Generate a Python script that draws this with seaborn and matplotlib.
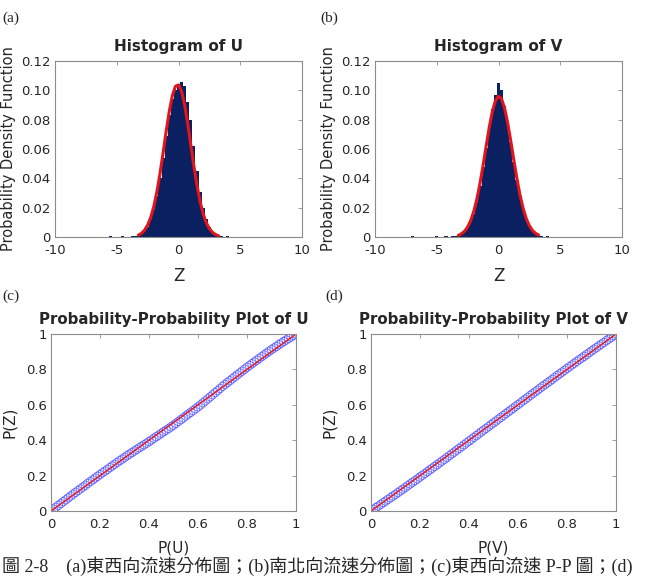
import seaborn as sns
import matplotlib.pyplot as plt

# histogram bins (centre of each 0.25-wide bin) and heights
u_bin_x = [-7.5, -6.5, -5.5, -4.5, -3.75, -3.5, -3.25, -3.0, -2.75, -2.5, -2.25, -2.0, -1.75, -1.5,
           -1.25, -1.0, -0.75, -0.5, -0.25, 0.0, 0.25, 0.5, 0.75, 1.0, 1.25, 1.5, 1.75,
           2.0, 2.25, 2.5, 2.75, 3.0, 3.25, 3.5, 4.0, 4.5, 5.5]
u_bin_h = [0.0003, 0.0003, 0.0004, 0.0004, 0.0005, 0.0008, 0.0012, 0.0022, 0.004, 0.007, 0.012, 0.019, 0.028, 0.040,
           0.054, 0.069, 0.083, 0.094, 0.100, 0.103, 0.106, 0.103, 0.092, 0.080, 0.062, 0.045, 0.031,
           0.020, 0.012, 0.0065, 0.0035, 0.0018, 0.0009, 0.0005, 0.0004, 0.0003, 0.0003]

v_bin_x = [-7.0, -6.0, -5.0, -4.25, -3.75, -3.5, -3.25, -3.0, -2.75, -2.5, -2.25, -2.0, -1.75, -1.5,
           -1.25, -1.0, -0.75, -0.5, -0.25, 0.0, 0.25, 0.5, 0.75, 1.0, 1.25, 1.5, 1.75,
           2.0, 2.25, 2.5, 2.75, 3.0, 3.25, 3.5, 4.0, 4.75]
v_bin_h = [0.0004, 0.0003, 0.0004, 0.0004, 0.0006, 0.0008, 0.001, 0.002, 0.0035, 0.006, 0.010, 0.016, 0.024, 0.035,
           0.048, 0.061, 0.075, 0.087, 0.097, 0.105, 0.100, 0.089, 0.078, 0.065, 0.051, 0.039, 0.028,
           0.019, 0.012, 0.0075, 0.0045, 0.0025, 0.0012, 0.0006, 0.0004, 0.0003]

# fitted normal curves
curve_x = [-3.25, -3.0, -2.75, -2.5, -2.25, -2.0, -1.75, -1.5, -1.25, -1.0, -0.75, -0.5, -0.25,
           0.0, 0.25, 0.5, 0.75, 1.0, 1.25, 1.5, 1.75, 2.0, 2.25, 2.5, 2.75, 3.0, 3.25]
u_curve = [0.0013, 0.0025, 0.0046, 0.0081, 0.0133, 0.0208, 0.0308, 0.0431, 0.0572, 0.0719, 0.0855, 0.0963, 0.1027,
           0.1037, 0.0992, 0.0898, 0.0770, 0.0625, 0.0480, 0.0350, 0.0241, 0.0157, 0.0097, 0.0057, 0.0032, 0.0017, 0.0008]
v_curve = [0.0011, 0.0022, 0.0039, 0.0068, 0.0112, 0.0175, 0.0259, 0.0365, 0.0488, 0.0619, 0.0747, 0.0855, 0.0929,
           0.0960, 0.0941, 0.0876, 0.0775, 0.0651, 0.0519, 0.0393, 0.0283, 0.0193, 0.0125, 0.0077, 0.0045, 0.0025, 0.0013]

# P-P plot points
pp_x = [0.00, 0.01, 0.02, 0.03, 0.04, 0.05, 0.06, 0.07, 0.08, 0.09,
        0.10, 0.11, 0.12, 0.13, 0.14, 0.15, 0.16, 0.17, 0.18, 0.19,
        0.20, 0.21, 0.22, 0.23, 0.24, 0.25, 0.26, 0.27, 0.28, 0.29,
        0.30, 0.31, 0.32, 0.33, 0.34, 0.35, 0.36, 0.37, 0.38, 0.39,
        0.40, 0.41, 0.42, 0.43, 0.44, 0.45, 0.46, 0.47, 0.48, 0.49,
        0.50, 0.51, 0.52, 0.53, 0.54, 0.55, 0.56, 0.57, 0.58, 0.59,
        0.60, 0.61, 0.62, 0.63, 0.64, 0.65, 0.66, 0.67, 0.68, 0.69,
        0.70, 0.71, 0.72, 0.73, 0.74, 0.75, 0.76, 0.77, 0.78, 0.79,
        0.80, 0.81, 0.82, 0.83, 0.84, 0.85, 0.86, 0.87, 0.88, 0.89,
        0.90, 0.91, 0.92, 0.93, 0.94, 0.95, 0.96, 0.97, 0.98, 0.99, 1.00]
pp_u = [0.000, 0.011, 0.021, 0.032, 0.042, 0.053, 0.063, 0.074, 0.084, 0.095,
        0.105, 0.115, 0.125, 0.135, 0.145, 0.156, 0.166, 0.176, 0.186, 0.196,
        0.206, 0.216, 0.225, 0.235, 0.245, 0.255, 0.264, 0.274, 0.284, 0.293,
        0.303, 0.312, 0.321, 0.330, 0.339, 0.348, 0.357, 0.366, 0.374, 0.383,
        0.392, 0.401, 0.411, 0.420, 0.429, 0.439, 0.448, 0.457, 0.466, 0.476,
        0.485, 0.495, 0.506, 0.516, 0.526, 0.537, 0.547, 0.557, 0.567, 0.578,
        0.588, 0.599, 0.611, 0.622, 0.634, 0.645, 0.657, 0.669, 0.680, 0.692,
        0.704, 0.715, 0.726, 0.736, 0.747, 0.758, 0.769, 0.780, 0.790, 0.801,
        0.812, 0.822, 0.832, 0.842, 0.852, 0.862, 0.872, 0.882, 0.892, 0.902,
        0.912, 0.921, 0.930, 0.940, 0.949, 0.958, 0.966, 0.975, 0.983, 0.992, 1.000]
pp_v = [0.000, 0.009, 0.019, 0.028, 0.038, 0.047, 0.056, 0.066, 0.075, 0.085,
        0.094, 0.104, 0.114, 0.123, 0.133, 0.143, 0.153, 0.163, 0.172, 0.182,
        0.192, 0.202, 0.212, 0.222, 0.232, 0.242, 0.252, 0.262, 0.272, 0.282,
        0.292, 0.302, 0.313, 0.323, 0.333, 0.344, 0.354, 0.364, 0.374, 0.385,
        0.395, 0.405, 0.416, 0.426, 0.436, 0.447, 0.457, 0.467, 0.477, 0.488,
        0.498, 0.508, 0.519, 0.529, 0.539, 0.550, 0.560, 0.570, 0.580, 0.591,
        0.601, 0.611, 0.622, 0.632, 0.642, 0.653, 0.663, 0.673, 0.683, 0.694,
        0.704, 0.714, 0.724, 0.734, 0.744, 0.755, 0.765, 0.775, 0.785, 0.795,
        0.805, 0.815, 0.825, 0.835, 0.845, 0.855, 0.864, 0.874, 0.884, 0.894,
        0.904, 0.914, 0.923, 0.933, 0.942, 0.952, 0.962, 0.971, 0.981, 0.990, 1.000]
ref_line = [0, 1]

hist_yticks = [0, 0.02, 0.04, 0.06, 0.08, 0.10, 0.12]
hist_ylabels = ["0", "0.02", "0.04", "0.06", "0.08", "0.10", "0.12"]
hist_xticks = [-10, -5, 0, 5, 10]
pp_ticks = [0, 0.2, 0.4, 0.6, 0.8, 1]
pp_labels = ["0", "0.2", "0.4", "0.6", "0.8", "1"]

caption = "圖 2-8　(a)東西向流速分佈圖；(b)南北向流速分佈圖；(c)東西向流速 P-P 圖；(d)"

sns.set_style("white")
plt.rcParams["font.family"] = ["DejaVu Sans", "Noto Sans CJK TC"]

NAVY = "#0b2060"
RED = "#e3141b"
GREY = "#8c8c8c"

fig = plt.figure(figsize=(6.54, 5.77), dpi=100)
W, H = 654, 577


def add_ax(l, t, r, b):
    return fig.add_axes([l / W, 1 - b / H, (r - l) / W, (b - t) / H])


def style(ax):
    for s in ax.spines.values():
        s.set_color(GREY)
        s.set_linewidth(0.8)
    ax.tick_params(direction="in", length=3, width=0.6, color=GREY, top=True, right=True,
                   labelsize=9.5, pad=3)
    ax.tick_params(axis="x", pad=5)


axA = add_ax(55, 61, 302, 237)
axB = add_ax(375, 61, 622, 237)
axC = add_ax(51, 334, 296, 511)
axD = add_ax(371, 334, 616, 511)

for ax, bx, bh, cy, name in [(axA, u_bin_x, u_bin_h, u_curve, "U"), (axB, v_bin_x, v_bin_h, v_curve, "V")]:
    sns.histplot(x=bx, weights=bh, binwidth=0.25, binrange=(-7.625, 5.625), ax=ax,
                 color=NAVY, alpha=1, linewidth=0)
    sns.lineplot(x=curve_x, y=cy, ax=ax, color=RED, linewidth=2.2)
    ax.set_xlim(-10, 10)
    ax.set_ylim(0, 0.12)
    ax.set_xticks(hist_xticks)
    ax.set_xticklabels([str(t) for t in hist_xticks])
    ax.set_yticks(hist_yticks)
    ax.set_yticklabels(hist_ylabels)
    ax.set_title("Histogram of " + name, fontsize=11, fontweight="bold", pad=7)
    ax.set_xlabel("Z", fontsize=12, labelpad=7)
    ax.set_ylabel("Probability Density Function", fontsize=10.5, labelpad=4)
    style(ax)

for ax, py, name in [(axC, pp_u, "U"), (axD, pp_v, "V")]:
    sns.scatterplot(x=pp_x, y=py, ax=ax, marker="o", s=36, facecolors="none",
                    edgecolor="#3a3aff", linewidth=0.6, alpha=0.7)
    sns.lineplot(x=ref_line, y=ref_line, ax=ax, color=RED, linewidth=1.0)
    ax.set_xlim(0, 1)
    ax.set_ylim(0, 1)
    ax.set_xticks(pp_ticks)
    ax.set_xticklabels(pp_labels)
    ax.set_yticks(pp_ticks)
    ax.set_yticklabels(pp_labels)
    ax.set_title("Probability-Probability Plot of " + name, fontsize=10.8, fontweight="bold", pad=7)
    ax.set_xlabel("P(" + name + ")", fontsize=11, labelpad=7)
    ax.set_ylabel("P(Z)", fontsize=11, labelpad=6)
    style(ax)

for label, x, y in [("(a)", 2, 18), ("(b)", 320, 18), ("(c)", 2, 296), ("(d)", 325, 296)]:
    fig.text(x / W, 1 - y / H, label, fontsize=11, family="Liberation Serif", va="center", ha="left")

fig.text(2 / W, 1 - 566 / H, caption, fontsize=13, family=["Liberation Serif", "Noto Sans CJK TC"],
         va="center", ha="left")

fig.savefig("out.png", dpi=100)
